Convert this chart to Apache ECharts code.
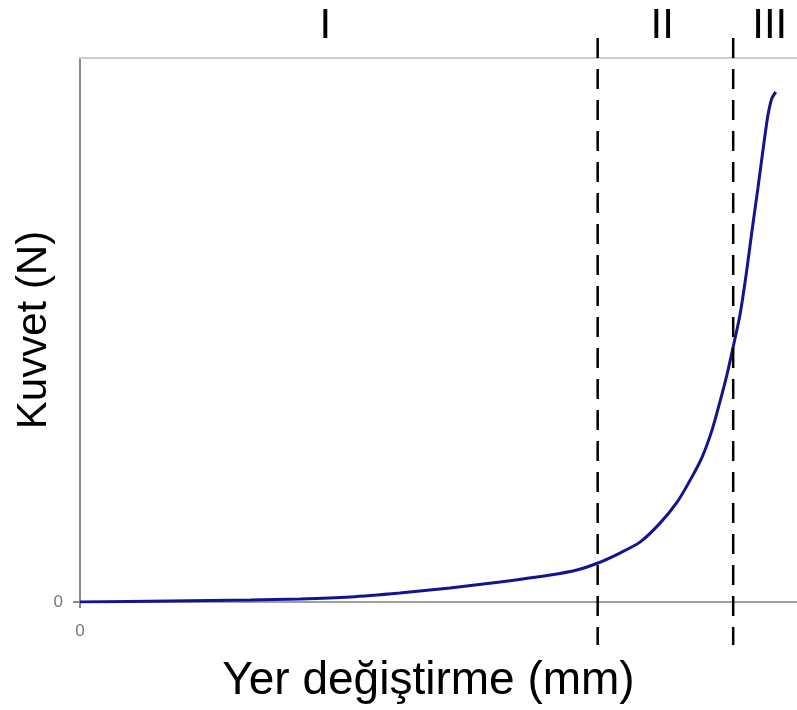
<!DOCTYPE html>
<html>
<head>
<meta charset="utf-8">
<script src="https://cdn.jsdelivr.net/npm/echarts@6/dist/echarts.min.js"></script>
<style>
html,body{margin:0;padding:0;background:#fff;}
#chart{width:797px;height:710px;}
</style>
</head>
<body>
<div id="chart"></div>
<script>
// yer değiştirme (x) ve kuvvet (y), 0-100 ölçeğinde
var dispX = [0, 12.5, 23.7, 30.7, 37.7, 44.6, 51.6, 58.6, 65.6, 69.3, 72.25, 75.3, 78.1, 80.9, 83.3, 85.1, 86.75, 88.15, 89.25, 90.25, 91.1, 92.05, 92.9, 93.7, 94.55, 95.4, 95.95, 96.5, 97.05];
var forceY = [0, 0.18, 0.37, 0.55, 0.92, 1.65, 2.57, 3.68, 4.96, 5.88, 7.17, 9.0, 11.0, 14.5, 18.4, 22.4, 26.6, 31.6, 36.8, 41.9, 46.9, 52.8, 60.1, 68.0, 76.1, 84.5, 89.5, 92.6, 93.75];
// bölge sınırları ve bölge adları
var dividerX = [72.2, 91.1];
var regionNames = ['I', 'II', 'III'];
var regionLabelX = [34.2, 81.2, 96.2];
var tickValues = [0];

var font = "'Liberation Sans', Arial, sans-serif";

var curve = [];
for (var i = 0; i < dispX.length; i++) {
    curve.push([dispX[i], forceY[i]]);
}
var regions = [];
for (var j = 0; j < regionNames.length; j++) {
    regions.push([regionLabelX[j], regionNames[j]]);
}

var chart = echarts.init(document.getElementById('chart'));
var option = {
    animation: false,
    grid: {left: 80, right: 0, top: 58, bottom: 108, outerBoundsMode: 'none'},
    xAxis: [
        {
            type: 'value',
            min: 0,
            max: 100,
            name: 'Yer değiştirme (mm)',
            nameLocation: 'middle',
            nameGap: 56,
            nameMoveOverlap: false,
            nameTextStyle: {fontSize: 46, color: '#000', fontFamily: font, padding: [0, 20, 0, 0]},
            axisLine: {lineStyle: {color: '#a0a0a0', width: 2}},
            axisTick: {show: true, customValues: tickValues, length: 6, lineStyle: {color: '#888', width: 2}},
            axisLabel: {customValues: tickValues, color: '#777', fontSize: 17, fontFamily: font, margin: 21},
            splitLine: {show: false}
        },
        {
            type: 'value',
            position: 'top',
            min: 0,
            max: 100,
            axisLine: {lineStyle: {color: '#cccccc', width: 2}},
            axisTick: {show: false},
            axisLabel: {show: false},
            splitLine: {show: false}
        }
    ],
    yAxis: {
        type: 'value',
        min: 0,
        max: 100,
        name: 'Kuvvet (N)',
        nameLocation: 'middle',
        nameGap: 25,
        nameMoveOverlap: false,
        nameTextStyle: {fontSize: 42, color: '#000', fontFamily: font},
        axisLine: {show: true, lineStyle: {color: '#888', width: 2}},
        axisTick: {show: true, customValues: tickValues, length: 7, lineStyle: {color: '#888', width: 2}},
        axisLabel: {customValues: tickValues, color: '#777', fontSize: 17, fontFamily: font, margin: 17},
        splitLine: {show: false}
    },
    series: [
        {
            type: 'line',
            data: curve,
            smooth: 0.25,
            showSymbol: false,
            lineStyle: {color: '#141490', width: 3},
            z: 3
        },
        {
            // kesikli bölge sınırları
            type: 'custom',
            data: dividerX,
            encode: {x: 0},
            z: 4,
            renderItem: function (params, api) {
                var x = api.coord([api.value(0), 0])[0];
                var top = api.coord([0, 100])[1];
                var bottom = api.coord([0, 0])[1];
                return {
                    type: 'line',
                    shape: {x1: x, y1: top - 20, x2: x, y2: bottom + 43},
                    style: {stroke: '#000', lineWidth: 2.5, lineDash: [20, 11]}
                };
            }
        },
        {
            type: 'custom',
            data: regions,
            encode: {x: 0},
            renderItem: function (params, api) {
                var x = api.coord([api.value(0), 0])[0];
                var top = api.coord([0, 100])[1];
                return {
                    type: 'text',
                    style: {
                        x: x,
                        y: top - 32,
                        text: regionNames[params.dataIndex],
                        fontSize: 42,
                        fontFamily: font,
                        fill: '#000',
                        align: 'center',
                        verticalAlign: 'middle'
                    }
                };
            }
        }
    ]
};
chart.setOption(option);
</script>
</body>
</html>
